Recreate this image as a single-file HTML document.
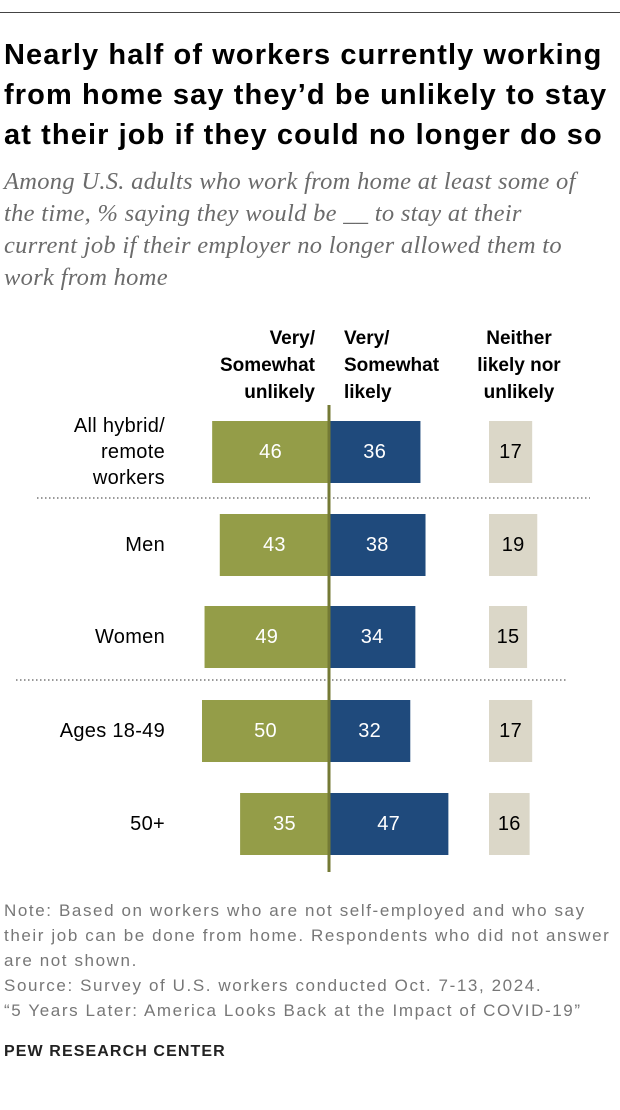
<!DOCTYPE html>
<html><head><meta charset="utf-8"><style>
body{margin:0;width:620px;height:1110px;background:#fff;font-family:"Liberation Sans",sans-serif;position:relative;overflow:hidden}
.a{position:absolute}
#title{left:4px;top:35px;font-size:29px;font-weight:bold;line-height:40px;color:#000;white-space:nowrap;letter-spacing:1.1px}
#sub{left:4px;top:166px;font-family:"Liberation Serif",serif;font-style:italic;font-size:24.5px;line-height:32px;color:#6b6b6b;white-space:nowrap;letter-spacing:0.3px}
.hd{font-weight:bold;font-size:19px;line-height:27px;color:#000}
#notes{left:4px;top:898px;font-size:17px;line-height:25px;color:#777;white-space:nowrap;letter-spacing:1.6px}
#pew{left:4px;top:1043px;font-size:16px;font-weight:bold;color:#222;letter-spacing:1.1px}
</style></head><body>
<div class="a" style="left:0;top:12px;width:620px;height:1px;background:#444"></div>
<div class="a" id="title">Nearly half of workers currently working<br>from home say they’d be unlikely to stay<br>at their job if they could no longer do so</div>
<div class="a" id="sub">Among U.S. adults who work from home at least some of<br>the time, % saying they would be __ to stay at their<br>current job if their employer no longer allowed them to<br>work from home</div>
<div class="a hd" style="left:170px;top:325px;width:145px;text-align:right">Very/<br>Somewhat<br>unlikely</div>
<div class="a hd" style="left:344px;top:325px;width:130px">Very/<br>Somewhat<br>likely</div>
<div class="a hd" style="left:455px;top:325px;width:128px;text-align:center">Neither<br>likely nor<br>unlikely</div>
<svg class="a" id="chart" style="left:0;top:0" width="620" height="1110"></svg>
<div class="a" id="notes">Note: Based on workers who are not self-employed and who say<br>their job can be done from home. Respondents who did not answer<br>are not shown.<br>Source: Survey of U.S. workers conducted Oct. 7-13, 2024.<br>“5 Years Later: America Looks Back at the Impact of COVID-19”</div>
<div class="a" id="pew">PEW RESEARCH CENTER</div>
<script>
const categories=["All hybrid/\nremote\nworkers","Men","Women","Ages 18-49","50+"];
const unlikely=[46,43,49,50,35];
const likely=[36,38,34,32,47];
const neither=[17,19,15,17,16];
const rowY=[452,545,637,731,824];
const center=329, scale=2.54, barH=62, nx=489;
const x=v=>v*scale;
const svg=document.getElementById('chart');const NS='http://www.w3.org/2000/svg';
function mk(t,at){const e=document.createElementNS(NS,t);for(const k in at)e.setAttribute(k,at[k]);svg.appendChild(e);return e;}
function txt(s,xx,yy,fill,anchor){const t=mk('text',{x:xx,y:yy,fill:fill,'font-size':'20','letter-spacing':'0.3','font-family':'Liberation Sans, sans-serif','text-anchor':anchor,'dominant-baseline':'central'});t.textContent=s;return t;}
categories.forEach((c,i)=>{
 const cy=rowY[i],top=cy-barH/2;
 let r=mk('rect',{x:center-x(unlikely[i]),y:top,width:x(unlikely[i]),height:barH,fill:'#949d48'});
 
 let t=txt(unlikely[i],center-x(unlikely[i])/2,cy,'#fff','middle');
 
 r=mk('rect',{x:center,y:top,width:x(likely[i]),height:barH,fill:'#1f4a7c'});
 
 t=txt(likely[i],center+x(likely[i])/2,cy,'#fff','middle');
 
 r=mk('rect',{x:nx,y:top,width:x(neither[i]),height:barH,fill:'#dbd7c8'});
 
 t=txt(neither[i],nx+x(neither[i])/2,cy,'#000','middle');
 
 const lines=c.split('\n');
 lines.forEach((l,j)=>{const lt=txt(l,165,cy+(j-(lines.length-1)/2)*26,'#000','end');
 });
});
let d=mk('line',{x1:37,x2:590,y1:498,y2:498,stroke:'#999','stroke-width':2,'stroke-dasharray':'1.5 2.5'});

d=mk('line',{x1:16,x2:567,y1:680,y2:680,stroke:'#999','stroke-width':2,'stroke-dasharray':'1.5 2.5'});

const ax=mk('line',{x1:center,x2:center,y1:405,y2:872,stroke:'#747a35','stroke-width':3});

</script>
</body></html>
